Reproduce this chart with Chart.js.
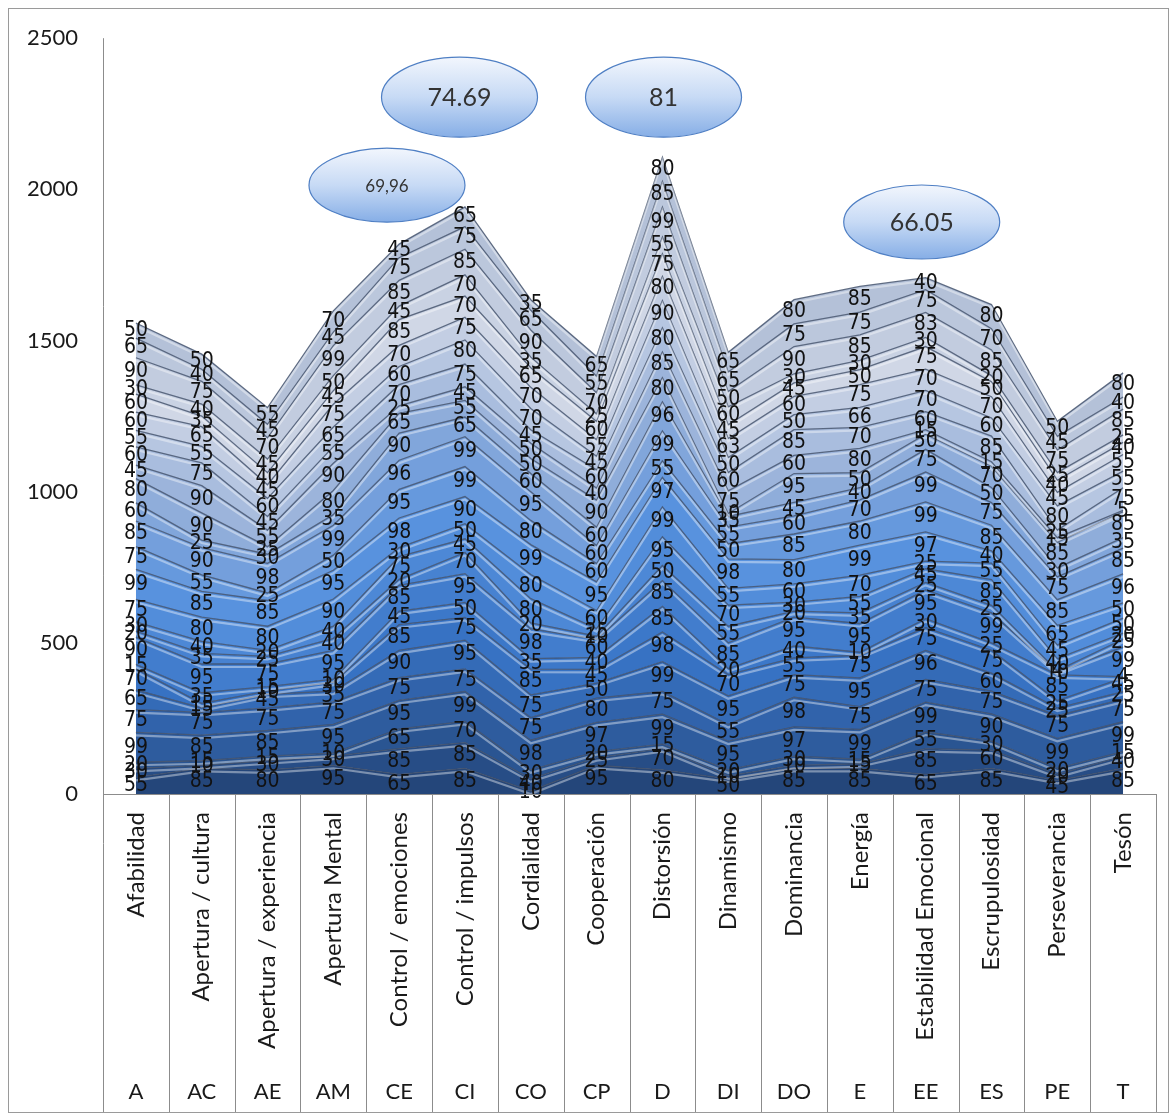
<!DOCTYPE html>
<html><head><meta charset="utf-8">
<script src="https://cdn.jsdelivr.net/npm/chart.js@4.4.1/dist/chart.umd.min.js"></script>
<style>html,body{margin:0;padding:0;background:#fff}#wrap{position:relative;width:1175px;height:1116px}</style>
</head><body><div id="wrap"><canvas id="c" width="1175" height="1116"></canvas></div>
<script>
const categories = ['Afabilidad','Apertura / cultura','Apertura / experiencia','Apertura Mental','Control / emociones','Control / impulsos','Cordialidad','Cooperación','Distorsión','Dinamismo','Dominancia','Energía','Estabilidad Emocional','Escrupulosidad','Perseverancia','Tesón'];
const codes = ['A','AC','AE','AM','CE','CI','CO','CP','D','DI','DO','E','EE','ES','PE','T'];
const yTicks = [0,500,1000,1500,2000,2500];

const valsA  = [50,65,90,30,60,60,55,60,45,80,60,85,75,99,75,30,20,90,15,70,65,75,99,20,30,55];
const valsAC = [50,40,75,40,35,65,55,75,90,90,25,90,55,85,80,40,35,95,35,15,15,75,85,15,10,85];
const valsAE = [55,45,70,45,40,45,60,45,55,25,30,98,25,85,80,20,25,75,15,10,45,75,85,15,30,80];
const valsAM = [70,45,99,50,45,75,65,55,90,80,35,99,50,95,90,40,40,95,10,30,35,75,95,10,30,95];
const valsCE = [45,75,85,45,85,70,60,70,25,65,90,96,95,98,30,75,20,85,45,85,90,75,95,65,85,65];
const valsCI = [65,75,85,70,70,75,80,75,45,55,65,99,99,90,50,45,70,95,50,75,95,75,99,70,85,85];
const valsCO = [35,65,90,35,65,70,70,45,50,50,60,95,80,99,80,80,20,98,35,85,75,75,98,30,40,10];
const valsCP = [65,55,70,25,60,55,45,60,40,90,60,60,60,95,60,25,10,60,40,45,50,80,97,20,25,95];
const valsD  = [80,85,99,55,75,80,90,80,85,80,96,99,55,97,99,95,50,85,85,98,99,75,99,15,70,80];
const valsDI = [65,65,50,60,45,63,50,60,75,10,35,55,50,98,55,70,55,85,20,70,95,55,95,20,10,50];
const valsDO = [80,75,90,30,45,60,50,85,60,95,45,60,85,80,60,30,20,95,40,55,75,98,97,30,10,85];
const valsE  = [85,75,85,30,50,75,66,70,80,50,40,70,80,99,70,55,35,95,10,75,95,75,99,15,15,85];
const valsEE = [40,75,83,30,75,70,70,60,15,50,75,99,99,97,25,45,25,95,30,75,96,75,99,55,85,65];
const valsES = [80,70,85,20,50,70,60,85,15,70,50,75,85,40,55,85,25,99,25,75,60,75,90,30,60,85];
const valsPE = [50,45,75,25,40,45,80,25,15,85,30,75,85,65,45,40,4,10,85,25,25,75,99,20,20,45];
const valsT  = [80,40,85,25,40,55,55,75,5,85,35,85,96,50,50,20,25,99,4,45,25,75,99,15,40,85];

// callout bubbles: text, category position (index), value height
const calloutText = ['69,96','74.69','81','66.05'];
const calloutAt = [3.815, 4.917, 8.017, 11.94];
const calloutValue = [2014, 2305, 2305, 1892];

const columns = [valsA,valsAC,valsAE,valsAM,valsCE,valsCI,valsCO,valsCP,valsD,valsDI,valsDO,valsE,valsEE,valsES,valsPE,valsT];
const nSeries = valsA.length;

const stops = [[0,[36,70,122]],[0.25,[56,116,198]],[0.48,[88,146,222]],[0.66,[150,176,218]],[0.84,[208,215,230]],[1,[180,193,216]]];
function colorFor(t){
  for(let k=1;k<stops.length;k++){
    if(t<=stops[k][0]){
      const a=stops[k-1], b=stops[k]; const f=(t-a[0])/(b[0]-a[0]);
      const c=a[1].map((v,j)=>Math.round(v+(b[1][j]-v)*f));
      return 'rgb('+c.join(',')+')';
    }
  }
  return 'rgb(180,193,216)';
}

const datasets = [];
for(let s=0;s<nSeries;s++){
  datasets.push({
    label:'S'+(s+1),
    data: columns.map(col=>col[col.length-1-s]),
    fill: s===0?'origin':'-1',
    backgroundColor: colorFor(s/(nSeries-1)),
    borderColor: 'rgba(62,78,104,0.8)',
    borderWidth: 1.3,
    pointRadius: 0,
    tension: 0
  });
}

const LBL_FONT = '"DejaVu Sans Condensed","DejaVu Sans",sans-serif';
const AX_FONT = 'Lato, "Open Sans", sans-serif';

const decor = {
  id:'decor',
  beforeDraw(chart){
    const c=chart.ctx; c.save(); c.fillStyle='#fff'; c.fillRect(0,0,chart.width,chart.height); c.restore();
  },
  afterDatasetsDraw(chart){
    const c=chart.ctx, ys=chart.scales.y;
    c.save();
    for(let s=0;s<nSeries;s++){
      const pts=chart.getDatasetMeta(s).data;
      c.beginPath();
      pts.forEach((p,i)=>{ if(i===0) c.moveTo(p.x,p.y+3); else c.lineTo(p.x,p.y+3); });
      c.strokeStyle='rgba(255,255,255,0.4)'; c.lineWidth=2.2; c.stroke();
    }
    c.restore();
    c.save();
    c.font='21px '+LBL_FONT; c.fillStyle='#111'; c.textAlign='center'; c.textBaseline='middle';
    for(let s=0;s<nSeries;s++){
      const meta=chart.getDatasetMeta(s);
      meta.data.forEach((p,i)=>{
        let cum=0; for(let k=0;k<s;k++) cum+=datasets[k].data[i];
        const v=datasets[s].data[i];
        c.fillText(String(v), p.x, ys.getPixelForValue(cum+v/2));
      });
    }
    c.restore();
  },
  afterDraw(chart){
    const c=chart.ctx, xs=chart.scales.x, ys=chart.scales.y, a=chart.chartArea;
    c.save();
    c.strokeStyle='#8c8c8c'; c.lineWidth=1;
    c.beginPath(); c.moveTo(a.left+0.5,a.top); c.lineTo(a.left+0.5,1112); c.stroke();
    c.beginPath(); c.moveTo(a.left,a.bottom+0.5); c.lineTo(a.right,a.bottom+0.5); c.stroke();
    const n=categories.length;
    for(let k=1;k<=n;k++){
      let x = k<n ? (xs.getPixelForValue(k-1)+xs.getPixelForValue(k))/2 : a.right;
      x=Math.round(x)+0.5;
      c.beginPath(); c.moveTo(x,a.bottom); c.lineTo(x,1112); c.stroke();
    }
    c.fillStyle='#1a1a1a';
    for(let i=0;i<n;i++){
      const x=xs.getPixelForValue(i);
      c.font='24px '+AX_FONT;
      c.save(); c.translate(x,a.bottom+18); c.rotate(-Math.PI/2);
      c.textAlign='right'; c.textBaseline='middle'; c.fillText(categories[i],0,0); c.restore();
      c.font='22px '+AX_FONT;
      c.textAlign='center'; c.textBaseline='middle'; c.fillText(codes[i],x,1092);
    }
    c.strokeStyle='#9a9a9a'; c.strokeRect(8.5,8.5,1160,1104);
    for(let j=0;j<calloutText.length;j++){
      const cx=xs.getPixelForValue(calloutAt[j]), cy=ys.getPixelForValue(calloutValue[j]);
      const rx=78, ry=j===0||j===3?37:40;
      const g=c.createLinearGradient(0,cy-ry,0,cy+ry);
      g.addColorStop(0,'#f2f6fd'); g.addColorStop(0.5,'#c7daf5'); g.addColorStop(1,'#86aee6');
      c.beginPath(); c.ellipse(cx,cy,rx,ry,0,0,Math.PI*2);
      c.fillStyle=g; c.fill(); c.strokeStyle='#4f7fc4'; c.lineWidth=1.2; c.stroke();
      c.fillStyle='#333'; c.font=(j===0?'17px ':'25px ')+AX_FONT; c.textAlign='center'; c.textBaseline='middle';
      c.fillText(calloutText[j],cx,cy+1);
    }
    c.restore();
  }
};

new Chart(document.getElementById('c'),{
  type:'line',
  data:{labels:codes,datasets},
  options:{
    responsive:false, animation:false, devicePixelRatio:1,
    layout:{padding:{top:38,right:19,bottom:322,left:0}},
    plugins:{legend:{display:false},tooltip:{enabled:false}},
    elements:{line:{tension:0}},
    scales:{
      x:{type:'category',offset:true,display:false},
      y:{stacked:true,min:0,max:2500,
         afterBuildTicks(s){ s.ticks=yTicks.map(v=>({value:v})); },
         afterFit(s){ s.width=103; },
         grid:{display:false,drawTicks:false},
         border:{display:false},
         ticks:{padding:25,color:'#1a1a1a',font:{family:'Lato',size:22},callback:v=>String(v)}
      }
    }
  },
  plugins:[decor]
});
</script></body></html>
